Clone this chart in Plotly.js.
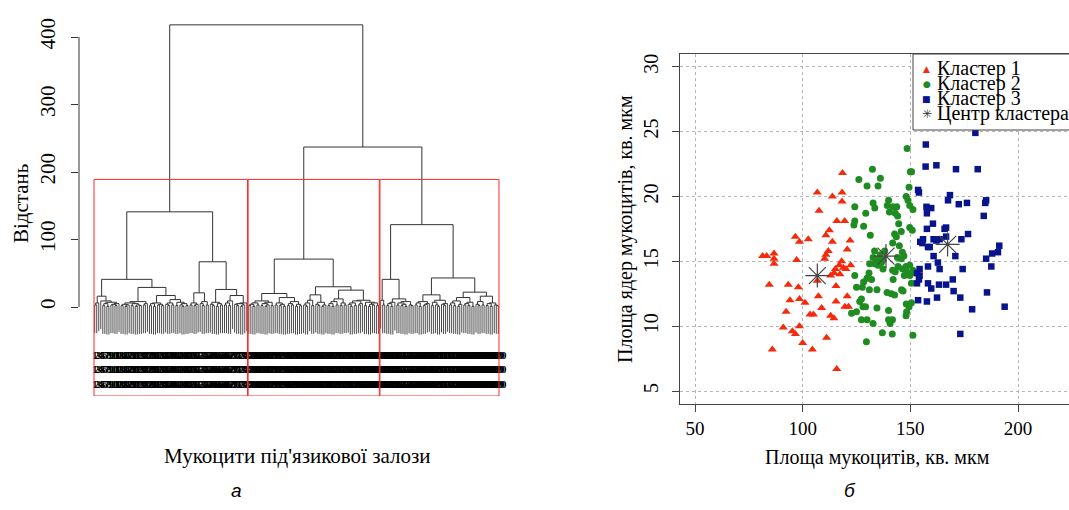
<!DOCTYPE html>
<html><head><meta charset="utf-8">
<script src="https://cdn.plot.ly/plotly-3.0.1.min.js"></script>
<style>html,body{margin:0;padding:0;background:#fff}#chart{width:1069px;height:510px}</style>
</head><body><div id="chart"></div>
<script>
// ---------- Dendrogram data (heights at which adjacent leaves join, in leaf order) ----------
const cluster1Gaps = [3,6,16,9,2,5,1,7,3,4,2,5,41,2,4,1,3,6,2,5,1,3,2,8,3,5,29,2,5,1,6,3,4,2,17,4,2,6,3,11,2,7,3,1,5,2,141,3,6,2,4,21,5,2,8,3,67,4,2,7,1,5,3,26,3,6,2,9,17,4,2,5,1,3,6];
const cluster2Gaps = [2,4,1,6,3,9,2,5,1,3,7,2,20,3,6,2,4,1,14,2,5,3,8,1,4,2,71,3,1,6,10,2,18,4,2,7,1,3,30,2,5,1,8,3,12,2,6,3,25,4,1,6,2,9,3,5,10,2,7,1,4,3,6,2];
const cluster3Gaps = [10,3,41,2,5,1,7,12,3,6,2,4,1,8,3,2,122,3,6,1,8,2,4,5,18,2,7,3,1,10,4,2,5,43,3,6,2,9,1,4,14,3,5,2,7,1,22,4,2,8,3,16,2,5,1,6,3,2];
const joinHeights = [418, 237];           // cluster1 | cluster2, cluster2 | cluster3
const nClusters = 3;
const distTicks = [0, 100, 200, 300, 400];

// ---------- Scatter data ----------
const c1x = [106.8,113.8,118.3,118.3,107.6,115.9,119.5,112.4,96.6,98.5,102.6,110.8,113.8,122.0,120.7,111.9,110.8,110.2,81.4,83.3,86.7,86.7,86.7,97.2,118.1,117.0,118.9,115.2,114.6,113.0,117.3,120.1,122.3,106.8,84.5,93.3,98.0,115.5,107.3,94.1,98.5,101.1,108.8,115.5,120.7,119.6,121.3,92.3,103.4,105.0,113.0,114.5,98.5,91.0,95.2,96.6,100.0,111.1,85.9,104.5,115.8,118.5];
const c1y = [20.3,20.0,20.3,19.6,18.9,18.1,18.1,17.4,16.9,16.5,16.7,17.0,16.5,16.6,15.9,15.8,15.5,15.2,15.4,15.4,15.6,15.2,14.8,15.1,15.0,14.7,14.5,14.4,14.1,13.9,14.0,14.4,14.7,13.5,13.2,13.2,13.0,13.1,12.3,12.0,12.1,11.8,11.4,11.9,12.3,11.5,11.5,11.1,10.9,10.9,10.8,10.6,10.0,9.9,9.6,9.4,8.7,9.1,8.2,8.2,6.7,21.8];
const c2x = [132.4,150.0,129.9,136.1,135.0,149.4,132.7,133.5,139.9,139.3,141.8,143.7,143.0,144.1,140.3,129.3,148.1,148.9,151.2,149.7,144.6,149.7,150.9,128.3,131.4,142.7,143.5,145.8,141.8,144.9,133.4,138.1,132.7,134.2,133.4,135.0,137.3,137.3,131.1,146.3,145.8,144.3,141.8,143.0,146.4,148.0,149.7,151.2,148.3,149.8,147.2,130.8,129.9,128.3,127.7,131.0,134.5,139.2,141.2,142.7,146.6,148.1,149.4,148.3,128.0,129.2,134.5,139.9,126.5,129.9,132.7,139.9,141.7,140.6,148.0,137.0,141.6,151.2,129.6,126.1,124.2,124.2,123.8,124.2,125.0,127.3,122.7,125.0,127.3,132.0,144.0,147.0,142.0,145.9,150.5,152.5,150.5,148.5,150.6,136.0,136.6,135.6];
const c2y = [22.1,21.9,20.8,21.4,20.8,20.7,19.5,19.1,19.7,19.3,19.2,19.2,18.7,18.5,18.8,18.7,20.0,19.7,19.0,19.3,17.9,17.6,17.4,17.7,17.0,17.1,16.9,17.3,16.4,16.2,15.8,15.8,15.3,15.1,14.8,14.7,15.1,14.4,14.8,15.7,15.2,14.6,14.3,14.2,14.4,14.6,14.7,14.3,14.2,13.9,13.9,14.1,13.7,13.4,13.0,12.8,12.8,12.6,12.5,12.4,12.7,11.7,11.5,11.1,11.5,11.5,11.4,11.2,11.9,10.5,10.2,10.5,10.5,10.2,10.8,9.5,9.4,9.3,8.8,21.3,19.2,18.1,17.8,13.9,13.0,12.1,11.0,11.1,10.5,13.6,15.3,15.4,13.6,12.8,13.3,14.1,11.8,23.7,21.9,15.5,14.9,15.2];
const c3x = [180.2,171.2,181.3,168.4,167.5,172.5,176.3,185.2,184.8,184.1,166.6,166.6,173.7,176.8,170.9,191.3,190.7,188.0,185.2,187.6,174.3,169.7,166.6,170.1,173.2,185.6,178.7,193.8,173.2,157.1,162.1,153.6,154.0,159.7,157.7,160.5,157.7,165.9,155.9,154.6,160.8,163.6,158.2,160.8,162.8,163.6,158.2,154.3,154.3,153.1,154.0,153.1,158.2,159.7,163.3,153.6,157.7,162.4,157.2,155.6,159.0,162.1,157.5];
const c3y = [24.9,22.1,22.1,20.1,19.7,19.4,19.5,19.7,19.5,18.5,17.6,16.9,16.7,17.1,15.4,16.2,15.7,15.6,15.2,14.6,14.4,13.6,13.2,12.7,12.2,12.6,11.3,11.5,9.4,22.3,22.4,20.5,20.3,19.1,18.7,17.9,17.5,17.5,16.7,16.5,16.7,16.7,16.1,15.4,14.9,14.4,14.6,14.4,13.9,14.1,13.6,13.3,13.3,12.9,13.2,12.0,11.9,12.2,24.0,16.4,16.1,16.6,19.2];
const centerX = [106.8, 138.7, 167.3];
const centerY = [13.9, 15.4, 16.3];
const areaTicks = [50, 100, 150, 200];
const nucleusTicks = [5, 10, 15, 20, 25, 30];
const legendLabels = ['Кластер 1', 'Кластер 2', 'Кластер 3', 'Центр кластера'];

// ---------- layout helpers ----------
const W = 1069, H = 510;
const fx = p => p / W, fy = p => 1 - p / H;
const SERIF = '"Liberation Serif", serif';
const SANS = '"Liberation Sans", sans-serif';

// ---------- build dendrogram ----------
const gaps = [...cluster1Gaps, joinHeights[0], ...cluster2Gaps, joinHeights[1], ...cluster3Gaps];
const N = gaps.length + 1;
const hang = 0.1 * Math.max(...gaps);
const segX = [], segY = [], leafX = [], leafY = [];
function build(a, b) {
  if (a === b) return { x: a + 1, leaf: true };
  let k = a;
  for (let i = a; i < b; i++) if (gaps[i] > gaps[k]) k = i;
  const L = build(a, k), R = build(k + 1, b), h = gaps[k];
  [L, R].forEach(c => { if (c.leaf) { leafX.push(c.x, c.x, null); leafY.push(h - hang, h, null); } });
  segX.push(L.x, L.x, R.x, R.x, null);
  segY.push(L.leaf ? h : L.h, h, h, R.leaf ? h : R.h, null);
  return { x: (L.x + R.x) / 2, h, leaf: false };
}
build(0, N - 1);

// cut for 3 clusters (as rect.hclust)
const sortedH = [...gaps].sort((a, b) => b - a);
const cutH = (sortedH[nClusters - 2] + sortedH[nClusters - 1]) / 2;
const bounds = [0];
gaps.forEach((g, i) => { if (g > cutH) bounds.push(i + 1); });
bounds.push(N);

const leafPos = [], leafText = [];
for (let i = 1; i <= N; i++) { leafPos.push(i); const s = String(i); leafText.push(s + '<br>' + s + '<br>' + s); }

// pixel calibration of left panel
const dL = 79, dR = 510, leafPx0 = 94.7, leafPx1 = 498.3;
const dx = (leafPx1 - leafPx0) / (N - 1);
const xRangeL = [1 - (leafPx0 - dL) / dx, N + (dR - leafPx1) / dx];
const zeroPx = 307, fourPx = 37, kpx = (zeroPx - fourPx) / 400;
const yTopPx = 10, yBotPx = 396;
const yRangeL = [(zeroPx - yBotPx) / kpx, (zeroPx - yTopPx) / kpx];

// right panel calibration
const rL = 680, px50 = 695, px200 = 1018;
const ux = (px200 - px50) / 150;
const xRangeR = [50 - (px50 - rL) / ux, 50 + (W - px50) / ux];
const py30 = 66.7, py5 = 391, uy = (py5 - py30) / 25;
const rTop = 54, rBot = 404;
const yRangeR = [5 - (rBot - py5) / uy, 30 + (py30 - rTop) / uy];

const traces = [
  { type: 'scatter', mode: 'lines', x: leafX, y: leafY, xaxis: 'x', yaxis: 'y', line: { color: '#4a4a4a', width: 1 }, hoverinfo: 'skip' },
  { type: 'scatter', mode: 'lines', x: segX, y: segY, xaxis: 'x', yaxis: 'y', line: { color: '#333', width: 1 }, hoverinfo: 'skip' },
  { type: 'scatter', mode: 'markers', x: c1x, y: c1y, xaxis: 'x2', yaxis: 'y2', marker: { symbol: 'triangle-up', size: 8, color: '#f52a0a', line: { width: 0 } } },
  { type: 'scatter', mode: 'markers', x: c2x, y: c2y, xaxis: 'x2', yaxis: 'y2', marker: { symbol: 'circle', size: 7, color: '#1f8c22', line: { width: 0 } } },
  { type: 'scatter', mode: 'markers', x: c3x, y: c3y, xaxis: 'x2', yaxis: 'y2', marker: { symbol: 'square', size: 6.5, color: '#07148c', line: { width: 0 } } },
  { type: 'scatter', mode: 'markers', x: centerX, y: centerY, xaxis: 'x2', yaxis: 'y2', marker: { symbol: 'asterisk-open', size: 20, color: '#444', line: { color: '#444', width: 1.2 } } }
];

const shapes = [
  { type: 'line', xref: 'paper', yref: 'y', x0: fx(dL), x1: fx(dL), y0: distTicks[0], y1: distTicks[distTicks.length - 1], line: { color: '#333', width: 1 } }
];
for (let c = 0; c < nClusters; c++) {
  shapes.push({ type: 'rect', xref: 'x', yref: 'y', x0: bounds[c] + 0.66, x1: bounds[c + 1] + 0.33, y0: yRangeL[0], y1: cutH, line: { color: '#ff2a2a', width: 1 }, fillcolor: 'rgba(0,0,0,0)' });
}
shapes.push({ type: 'rect', xref: 'paper', yref: 'paper', x0: fx(913), x1: 1.02, y0: fy(130), y1: fy(rTop), line: { color: '#444', width: 1 }, fillcolor: '#fff', layer: 'above' });

const ann = (text, x, y, size, extra) => Object.assign({ text, xref: 'paper', yref: 'paper', x: fx(x), y: fy(y), xanchor: 'center', yanchor: 'middle', showarrow: false, font: { family: SERIF, size, color: '#000' } }, extra || {});
const annotations = [
  ann('Відстань', 21, 204, 21, { textangle: -90 }),
  ann("Мукоцити під'язикової залози", 297, 456, 21),
  ann('Площа мукоцитів, кв. мкм', 877, 457, 20),
  ann('Площа ядер мукоцитів, кв. мкм', 626, 229, 20, { textangle: -90 }),
  ann('а', 236, 490, 19, { font: { family: SANS, size: 19, style: 'italic', color: '#000' } }),
  ann('б', 850, 490, 19, { font: { family: SANS, size: 19, style: 'italic', color: '#000' } })
];
const legGlyph = ['▲', '●', '■', '✳'];
const legColor = ['#f52a0a', '#1f8c22', '#07148c', '#333'];
const legSize = [9, 9, 9, 12];
legendLabels.forEach((t, i) => {
  const yy = 69 + i * 15;
  annotations.push(ann(legGlyph[i], 926.5, yy, legSize[i], { font: { family: 'DejaVu Sans', size: legSize[i], color: legColor[i] } }));
  annotations.push(ann(t, 935, yy, 20, { xanchor: 'left' }));
});

const layout = {
  width: W, height: H, margin: { l: 0, r: 0, t: 0, b: 0 },
  paper_bgcolor: '#fff', plot_bgcolor: '#fff', showlegend: false,
  font: { family: SERIF, color: '#000' },
  xaxis: { domain: [fx(dL), fx(dR)], range: xRangeL, anchor: 'free', position: fy(347), showline: false, showgrid: false, zeroline: false,
           ticks: '', tickmode: 'array', tickvals: leafPos, ticktext: leafText, tickangle: 0,
           tickfont: { family: SERIF, size: 11, weight: 'bold', color: '#000' } },
  yaxis: { domain: [fy(yBotPx), fy(yTopPx)], range: yRangeL, anchor: 'x', showline: false, showgrid: false, zeroline: false,
           ticks: 'outside', ticklen: 7, tickcolor: '#333', tickmode: 'array', tickvals: distTicks, tickangle: -90,
           ticklabelstandoff: 8, tickfont: { family: SERIF, size: 21, color: '#000' } },
  xaxis2: { domain: [fx(rL), 1], range: xRangeR, anchor: 'y2', showline: true, mirror: true, linecolor: '#444', linewidth: 1,
            showgrid: true, gridcolor: '#b5b5b5', griddash: 'dot', zeroline: false, ticks: 'outside', ticklen: 7, tickcolor: '#444',
            tickmode: 'array', tickvals: areaTicks, tickfont: { family: SERIF, size: 19, color: '#000' } },
  yaxis2: { domain: [fy(rBot), fy(rTop)], range: yRangeR, anchor: 'x2', showline: true, mirror: false, linecolor: '#444', linewidth: 1,
            showgrid: true, gridcolor: '#b5b5b5', griddash: 'dot', zeroline: false, ticks: 'outside', ticklen: 7, tickcolor: '#444',
            tickmode: 'array', tickvals: nucleusTicks, tickangle: -90, ticklabelstandoff: 6, tickfont: { family: SERIF, size: 20, color: '#000' } },
  shapes, annotations
};
Plotly.newPlot('chart', traces, layout, { staticPlot: true, displayModeBar: false });
</script></body></html>
